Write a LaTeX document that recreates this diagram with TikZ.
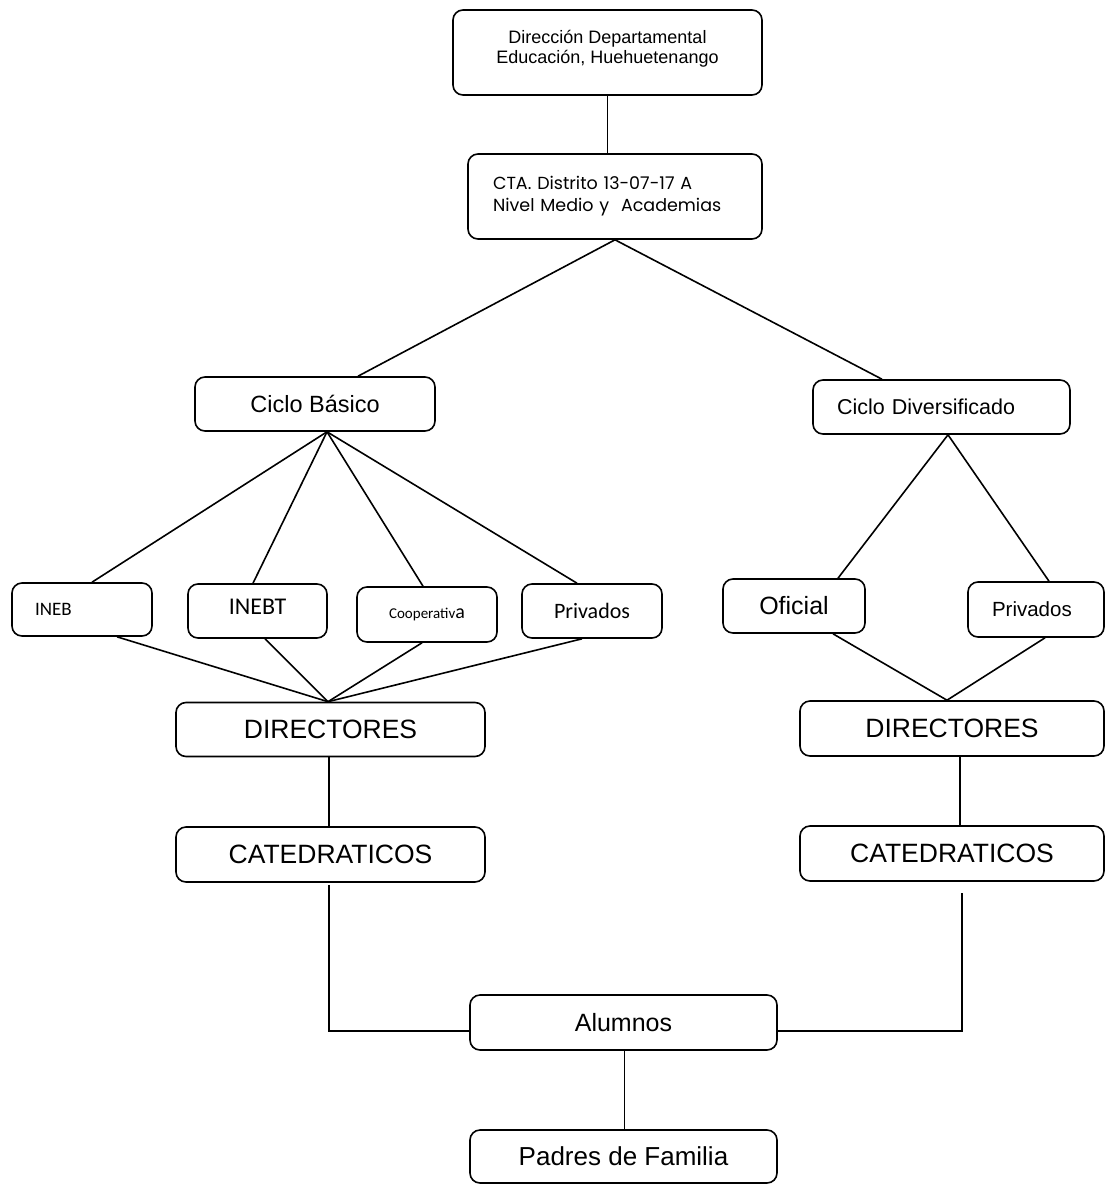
\documentclass[tikz,border=0pt]{standalone}
\usepackage{fontspec}
\setmainfont{Liberation Sans}
\newfontfamily\calfont{Carlito}
\newfontfamily\gothfont{Poppins}
\newcommand{\fs}[1]{\fontsize{#1}{#1}\selectfont}
\begin{document}
\begin{tikzpicture}[x=1pt,y=-1pt,
  box/.style={draw, line width=1.6pt, rounded corners=10pt, inner sep=0pt, align=center},
  conn/.style={line width=1.6pt}]
\useasboundingbox (0,0) rectangle (1105,1184);

\node[box, minimum width=309pt, minimum height=85pt, text depth=12pt, font=\fontsize{18}{20}\selectfont] (dir) at (607.5,52.5)
  {Dirección Departamental\\ Educación, Huehuetenango};
\node[box, minimum width=294pt, minimum height=85pt, text width=244pt, align=left, inner xsep=25pt, font=\gothfont\fontsize{17.5}{22}\selectfont] (cta) at (615,196.5)
  {CTA. Distrito 13-07-17 A\\ Nivel Medio y~ Academias};

\node[box, minimum width=240pt, minimum height=54pt, font=\fs{23.5}] (cb) at (315,404) {Ciclo Básico};
\node[box, minimum width=257pt, minimum height=54pt, text width=209pt, align=left, inner xsep=24pt, font=\fs{21.5}] (cd) at (941.5,407) {Ciclo Diversificado};

\node[box, minimum width=140pt, minimum height=53pt, text width=94pt, align=left, inner xsep=23pt, font=\calfont\fs{19}] (ineb) at (82,609.5) {INEB};
\node[box, minimum width=139pt, minimum height=54pt, text depth=8pt, font=\calfont\fs{24}] (inebt) at (257.5,611) {INEBT};
\node[box, minimum width=140pt, minimum height=55pt, font=\calfont\fs{15}] (coop) at (427,614.5) {Cooperativ{\fs{20}a}};
\node[box, minimum width=140pt, minimum height=54pt, font=\calfont\fs{22}] (priv) at (592,611) {Privados};

\node[box, minimum width=142pt, minimum height=54pt, font=\fs{25}] (ofi) at (794,606) {Oficial};
\node[box, minimum width=136pt, minimum height=55pt, text width=88pt, align=left, inner xsep=24pt, font=\fs{20.5}] (privR) at (1036,609.5) {Privados};

\node[box, minimum width=309pt, minimum height=54pt, font=\fs{26.5}] (dirL) at (330.5,729.5) {DIRECTORES};
\node[box, minimum width=309pt, minimum height=55pt, font=\fs{26.5}] (catL) at (330.5,854.5) {CATEDRATICOS};
\node[box, minimum width=304pt, minimum height=55pt, font=\fs{26.5}] (dirR) at (952,728.5) {DIRECTORES};
\node[box, minimum width=304pt, minimum height=55pt, font=\fs{26.5}] (catR) at (952,853.5) {CATEDRATICOS};

\node[box, minimum width=307pt, minimum height=55pt, font=\fs{25}] (alum) at (623.5,1022.5) {Alumnos};
\node[box, minimum width=307pt, minimum height=53pt, font=\fs{26}] (pad) at (623.5,1156.5) {Padres de Familia};

\coordinate (rtop) at (962,893);

\draw[conn] (dir.south) -- (dir.south |- cta.north);
\draw[conn] ([xshift=43pt]cb.north) -- (cta.south) -- ([xshift=-59.5pt]cd.north);

\draw[conn] ([xshift=10pt]ineb.north) -- ([xshift=12pt]cb.south);
\draw[conn] ([xshift=-4.5pt]inebt.north) -- ([xshift=12pt]cb.south);
\draw[conn] ([xshift=-4pt]coop.north) -- ([xshift=12pt]cb.south);
\draw[conn] ([xshift=-15pt]priv.north) -- ([xshift=12pt]cb.south);

\draw[conn] ([xshift=35pt]ineb.south) -- ([xshift=-2.5pt]dirL.north);
\draw[conn] ([xshift=7.5pt]inebt.south) -- ([xshift=-2.5pt]dirL.north);
\draw[conn] ([xshift=-5pt]coop.south) -- ([xshift=-2.5pt]dirL.north);
\draw[conn] ([xshift=-10pt]priv.south) -- ([xshift=-2.5pt]dirL.north);

\draw[conn] ([xshift=44pt]ofi.north) -- ([xshift=6.5pt]cd.south) -- ([xshift=13pt]privR.north);
\draw[conn] ([xshift=39pt]ofi.south) -- ([xshift=-5pt]dirR.north) -- ([xshift=9pt]privR.south);

\draw[conn] ([xshift=-1.5pt]dirL.south) -- ([xshift=-1.5pt]catL.north);
\draw[conn] ([xshift=8pt]dirR.south) -- ([xshift=8pt]catR.north);

\draw[conn] ([xshift=-1.5pt,yshift=-2pt]catL.south) |- ([yshift=-8.5pt]alum.west);
\draw[conn] ([yshift=-8.5pt]alum.east) -| (rtop);
\draw[conn] ([xshift=1pt]alum.south) -- ([xshift=1pt]pad.north);
\end{tikzpicture}
\end{document}
